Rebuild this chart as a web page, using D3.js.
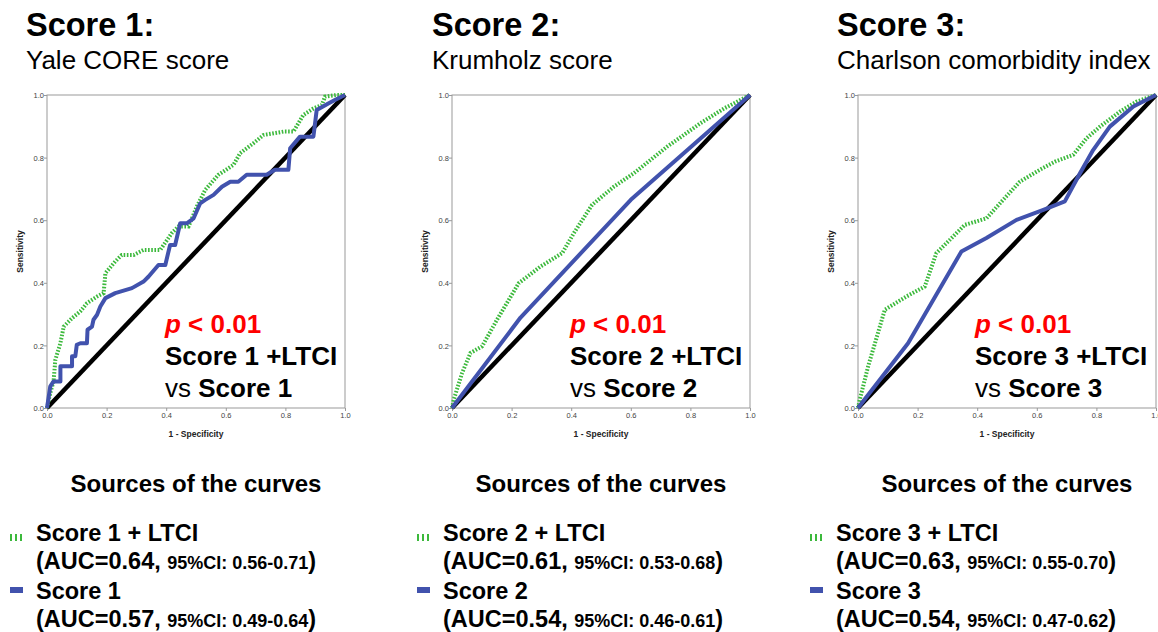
<!DOCTYPE html>
<html>
<head>
<meta charset="utf-8">
<script src="https://cdn.jsdelivr.net/npm/d3@7"></script>
<style>
  body { margin: 0; background: #fff; }
  svg text { font-family: "Liberation Sans", Arial, sans-serif; }
</style>
</head>
<body>
<svg id="chart"></svg>
<script>
// titles
var scoreTitles = ["Score 1:", "Score 2:", "Score 3:"];
var scoreNames = ["Yale CORE score", "Krumholz score", "Charlson comorbidity index"];
var legendLtci = ["Score 1 + LTCI", "Score 2 + LTCI", "Score 3 + LTCI"];
var legendBase = ["Score 1", "Score 2", "Score 3"];
var aucLtci = ["0.64", "0.61", "0.63"];
var ciLtci = ["0.56-0.71", "0.53-0.68", "0.55-0.70"];
var aucBase = ["0.57", "0.54", "0.54"];
var ciBase = ["0.49-0.64", "0.46-0.61", "0.47-0.62"];
var ticks = [0, 0.2, 0.4, 0.6, 0.8, 1.0];

// ROC points [1 - specificity, sensitivity]
var score1Ltci = [[0,0],[0.011,0.048],[0.022,0.085],[0.028,0.154],[0.045,0.207],[0.056,0.26],[0.084,0.287],[0.112,0.309],[0.134,0.335],[0.168,0.356],[0.19,0.367],[0.196,0.431],[0.229,0.468],[0.251,0.489],[0.291,0.489],[0.324,0.505],[0.38,0.505],[0.419,0.559],[0.441,0.58],[0.475,0.58],[0.503,0.644],[0.531,0.697],[0.575,0.745],[0.626,0.777],[0.648,0.814],[0.693,0.846],[0.726,0.872],[0.793,0.883],[0.827,0.883],[0.86,0.936],[0.894,0.957],[0.922,0.968],[0.933,0.995],[0.972,1],[1,1]];
var score1 = [[0,0],[0.011,0.069],[0.022,0.085],[0.045,0.085],[0.045,0.133],[0.084,0.133],[0.084,0.165],[0.095,0.165],[0.1,0.202],[0.112,0.207],[0.134,0.207],[0.136,0.25],[0.151,0.26],[0.156,0.282],[0.168,0.298],[0.179,0.324],[0.196,0.351],[0.229,0.367],[0.285,0.383],[0.324,0.404],[0.341,0.42],[0.374,0.457],[0.397,0.457],[0.413,0.521],[0.43,0.521],[0.447,0.59],[0.469,0.59],[0.492,0.606],[0.514,0.654],[0.531,0.665],[0.559,0.681],[0.587,0.707],[0.615,0.723],[0.642,0.723],[0.67,0.745],[0.737,0.745],[0.765,0.761],[0.81,0.761],[0.816,0.83],[0.849,0.867],[0.894,0.867],[0.905,0.952],[0.944,0.973],[0.966,0.984],[1,1]];
var score2Ltci = [[0,0],[0.006,0.027],[0.034,0.112],[0.062,0.176],[0.101,0.197],[0.151,0.282],[0.224,0.399],[0.297,0.452],[0.37,0.495],[0.409,0.559],[0.47,0.649],[0.543,0.707],[0.61,0.75],[0.722,0.835],[0.834,0.91],[0.913,0.957],[1,1]];
var score2 = [[0,0],[0.23,0.289],[0.6,0.665],[1,1]];
var score3Ltci = [[0,0],[0.006,0.027],[0.034,0.133],[0.09,0.314],[0.162,0.356],[0.224,0.388],[0.263,0.495],[0.308,0.537],[0.358,0.585],[0.431,0.606],[0.487,0.665],[0.543,0.723],[0.61,0.761],[0.661,0.787],[0.722,0.809],[0.767,0.862],[0.812,0.899],[0.879,0.947],[0.935,0.979],[1,1]];
var score3 = [[0,0],[0.168,0.207],[0.347,0.5],[0.431,0.543],[0.532,0.601],[0.622,0.633],[0.694,0.66],[0.745,0.75],[0.789,0.824],[0.845,0.899],[0.924,0.963],[1,1]];

var ltciCurves = [score1Ltci, score2Ltci, score3Ltci];
var baseCurves = [score1, score2, score3];

var width = 1158;
var height = 632;
var green = "#3cb93c";
var blue = "#4152ad";

var svg = d3.select("#chart")
    .attr("width", width)
    .attr("height", height);

// left edges of the three plot frames and panel text offsets
var plotLeft = [47, 452, 858];
var textLeft = [26, 432, 837];
var pLeft = [165, 570, 975];
var legLeft = [10, 417, 810];
var plotW = 298;
var plotTop = 95, plotBottom = 408;

for (var i = 0; i < 3; i++) {
    var g = svg.append("g");
    var x = d3.scaleLinear().domain([0, 1]).range([plotLeft[i], plotLeft[i] + plotW]);
    var y = d3.scaleLinear().domain([0, 1]).range([plotBottom, plotTop]);

    // titles
    g.append("text").attr("x", textLeft[i]).attr("y", 36)
        .attr("font-size", "32.5px").attr("font-weight", "bold").text(scoreTitles[i]);
    g.append("text").attr("x", textLeft[i]).attr("y", 69)
        .attr("font-size", "26px").text(scoreNames[i]);

    // frame
    g.append("rect")
        .attr("x", x(0)).attr("y", y(1))
        .attr("width", x(1) - x(0)).attr("height", y(0) - y(1))
        .attr("fill", "none").attr("stroke", "#999").attr("stroke-width", 1);

    var xAxis = g.append("g")
        .attr("transform", "translate(0," + y(0) + ")")
        .call(d3.axisBottom(x).tickValues(ticks).tickFormat(d3.format(".1f")).tickSize(3));
    var yAxis = g.append("g")
        .attr("transform", "translate(" + x(0) + ",0)")
        .call(d3.axisLeft(y).tickValues(ticks).tickFormat(d3.format(".1f")).tickSize(3));
    [xAxis, yAxis].forEach(function (a) {
        a.select(".domain").remove();
        a.selectAll("line").attr("stroke", "#999");
        a.selectAll("text")
            .style("font-size", "7.5px")
            .attr("fill", "#444")
            .attr("font-family", "Liberation Sans, Arial, sans-serif");
    });
    yAxis.selectAll("text").attr("x", -3).attr("dy", "0.35em");
    xAxis.selectAll("text").attr("y", 5);

    g.append("text")
        .attr("transform", "translate(" + (x(0) - 24) + "," + y(0.5) + ")rotate(-90)")
        .attr("text-anchor", "middle")
        .attr("font-size", "8.5px").attr("font-weight", "bold").attr("fill", "#222")
        .text("Sensitivity");
    g.append("text")
        .attr("x", x(0.5)).attr("y", 437)
        .attr("text-anchor", "middle")
        .attr("font-size", "8.5px").attr("font-weight", "bold").attr("fill", "#222")
        .text("1 - Specificity");

    var line = d3.line()
        .x(function (d) { return x(d[0]); })
        .y(function (d) { return y(d[1]); });

    // reference diagonal
    g.append("path").datum([[0, 0], [1, 1]])
        .attr("d", line).attr("fill", "none")
        .attr("stroke", "#000").attr("stroke-width", 4.5);

    g.append("path").datum(ltciCurves[i])
        .attr("d", line).attr("fill", "none")
        .attr("stroke", green).attr("stroke-width", 4)
        .attr("stroke-dasharray", "1.6,1.6");

    g.append("path").datum(baseCurves[i])
        .attr("d", line).attr("fill", "none")
        .attr("stroke", blue).attr("stroke-width", 4)
        .attr("stroke-linejoin", "round");

    // significance annotation
    var pt = g.append("text").attr("x", pLeft[i]).attr("y", 333)
        .attr("font-size", "26px").attr("font-weight", "bold").attr("fill", "#ff0000");
    pt.append("tspan").attr("font-style", "italic").text("p");
    pt.append("tspan").text(" < 0.01");
    g.append("text").attr("x", pLeft[i]).attr("y", 365)
        .attr("font-size", "26px").attr("font-weight", "bold")
        .text(legendBase[i] + " +LTCI");
    var vs = g.append("text").attr("x", pLeft[i]).attr("y", 397).attr("font-size", "26px");
    vs.append("tspan").text("vs ");
    vs.append("tspan").attr("font-weight", "bold").text(legendBase[i]);

    // legend
    var cx = (x(0) + x(1)) / 2;
    g.append("text").attr("x", cx).attr("y", 492)
        .attr("text-anchor", "middle")
        .attr("font-size", "24px").attr("font-weight", "bold")
        .text("Sources of the curves");

    var lx = legLeft[i];
    var tx = lx + 26;
    g.append("line").attr("x1", lx).attr("x2", lx + 13)
        .attr("y1", 537.5).attr("y2", 537.5)
        .attr("stroke", green).attr("stroke-width", 7)
        .attr("stroke-dasharray", "2,3");
    g.append("line").attr("x1", lx).attr("x2", lx + 13)
        .attr("y1", 590).attr("y2", 590)
        .attr("stroke", blue).attr("stroke-width", 6);

    var rows = [
        {y: 541, name: legendLtci[i]},
        {y: 569, auc: aucLtci[i], ci: ciLtci[i]},
        {y: 599, name: legendBase[i]},
        {y: 627, auc: aucBase[i], ci: ciBase[i]}
    ];
    rows.forEach(function (r) {
        var t = g.append("text").attr("x", tx).attr("y", r.y)
            .attr("font-size", "23.5px").attr("font-weight", "bold");
        if (r.name) {
            t.text(r.name);
        } else {
            t.append("tspan").text("(AUC=" + r.auc + ", ");
            t.append("tspan").attr("font-size", "18px").text("95%CI: " + r.ci);
            t.append("tspan").text(")");
        }
    });
}
</script>
</body>
</html>
